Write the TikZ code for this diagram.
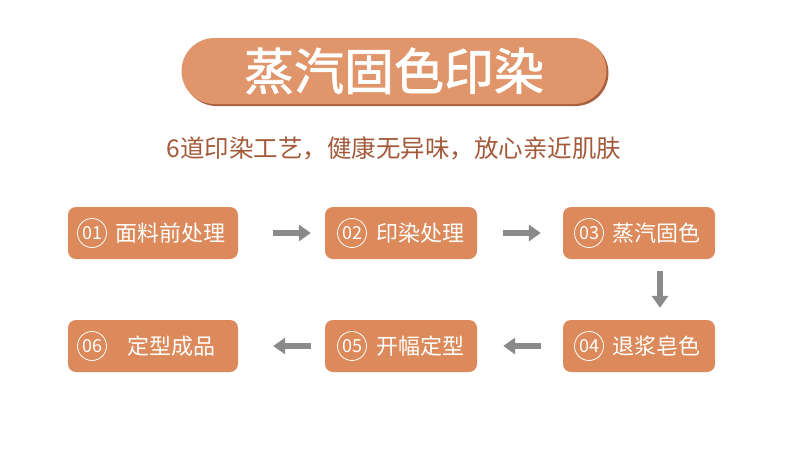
\documentclass[tikz,border=0pt]{standalone}
\usepackage{fontspec}
\newfontfamily\cjk{Noto Sans CJK SC}
\newfontfamily\cjkheavy[FakeBold=1.6]{Noto Sans CJK SC}
\usetikzlibrary{positioning,arrows.meta}
\definecolor{pillcol}{HTML}{E0956B}
\definecolor{pillshade}{HTML}{A8603F}
\definecolor{boxcol}{HTML}{DC895B}
\definecolor{subcol}{HTML}{A35A3A}
\definecolor{arrcol}{HTML}{8A8A8A}
\tikzset{
  stepbox/.style={draw=none,fill=boxcol,rounded corners=8pt,minimum height=52pt},
  numcirc/.style={circle,draw=white,line width=0.8pt,minimum size=29pt,inner sep=0pt,text=white,font=\cjk\fontsize{18}{18}\selectfont},
  steplabel/.style={anchor=west,inner sep=0pt,text=white,font=\cjk\fontsize{22}{22}\selectfont},
  pill/.style={rounded corners=33pt,minimum width=425pt,minimum height=66pt,inner sep=0pt},
  flow/.style={draw=arrcol,line width=6pt,-{Triangle[length=12pt,width=16pt]}}
}
\begin{document}
\begin{tikzpicture}[x=1pt,y=-1pt]
\useasboundingbox[fill=white] (0,0) rectangle (790,453);

% title
\node[pill,fill=pillshade] (shade) at (396,73) {};
\node[pill,fill=pillcol,text=white,font=\cjkheavy\fontsize{50}{50}\selectfont] (title) at (394,71) {蒸汽固色印染};

\node[text=subcol,font=\cjk\fontsize{24.5}{24.5}\selectfont] (sub) at (394,148) {6道印染工艺，健康无异味，放心亲近肌肤};

% steps
\node[stepbox,minimum width=170pt] (s1) at (153,233) {};
\node[stepbox,minimum width=152pt] (s2) at (401,233) {};
\node[stepbox,minimum width=152pt] (s3) at (639,233) {};
\node[stepbox,minimum width=152pt] (s4) at (639,346) {};
\node[stepbox,minimum width=152pt] (s5) at (401,346) {};
\node[stepbox,minimum width=170pt] (s6) at (153,346) {};

\node[numcirc] (n1) at (92,233) {01};
\node[numcirc] (n2) at (352,233) {02};
\node[numcirc] (n3) at (589,233) {03};
\node[numcirc] (n4) at (589,346) {04};
\node[numcirc] (n5) at (352,346) {05};
\node[numcirc] (n6) at (92,346) {06};

\node[steplabel] (l1) at (115,233) {面料前处理};
\node[steplabel] (l2) at (376,233) {印染处理};
\node[steplabel] (l3) at (612,233) {蒸汽固色};
\node[steplabel] (l4) at (612,346) {退浆皂色};
\node[steplabel] (l5) at (376,346) {开幅定型};
\node[steplabel] (l6) at (127,346) {定型成品};

% arrows
\draw[flow] ([xshift=35pt]s1.east) -- ([xshift=-14pt]s2.west);
\draw[flow] ([xshift=26pt]s2.east) -- ([xshift=-22pt]s3.west);
\draw[flow] ([xshift=21pt,yshift=-12pt]s3.south) -- ([xshift=21pt,yshift=12pt]s4.north);
\draw[flow] ([xshift=-22pt]s4.west) -- ([xshift=26pt]s5.east);
\draw[flow] ([xshift=-14pt]s5.west) -- ([xshift=35pt]s6.east);
\end{tikzpicture}
\end{document}
